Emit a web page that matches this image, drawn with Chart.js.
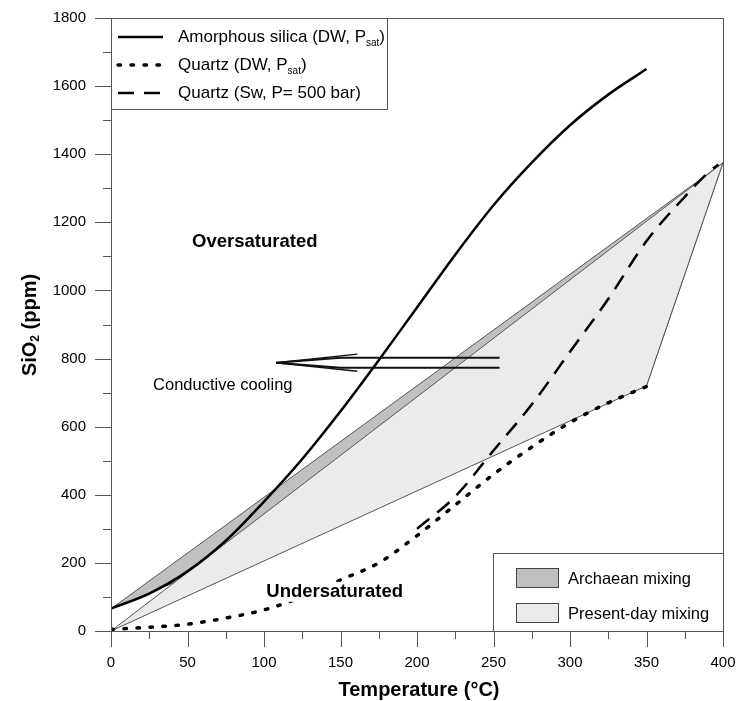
<!DOCTYPE html>
<html>
<head>
<script src="https://cdn.jsdelivr.net/npm/chart.js"></script>
<style>
  html, body { margin: 0; padding: 0; background: #fff; }
  #wrap { width: 739px; height: 701px; }
</style>
</head>
<body>
<div id="wrap"><canvas id="chart" width="739" height="701"></canvas></div>
<script>
// Amorphous silica solubility (DW, Psat)
const amorphT = [0, 25, 50, 75, 100, 125, 150, 175, 200, 225, 250, 275, 300, 325, 350];
const amorphSiO2 = [66, 110, 175, 265, 380, 505, 645, 795, 950, 1105, 1250, 1375, 1485, 1575, 1650];

// Quartz solubility (DW, Psat)
const quartzT = [0, 25, 50, 75, 100, 125, 150, 175, 200, 225, 250, 275, 300, 325, 350];
const quartzSiO2 = [5, 11, 20, 38, 62, 100, 150, 200, 280, 370, 460, 540, 612, 670, 718];

// Quartz solubility (Sw, P = 500 bar)
const quartzSwT = [200, 225, 250, 275, 300, 325, 350, 375, 390, 397];
const quartzSwSiO2 = [300, 395, 530, 665, 820, 975, 1145, 1275, 1345, 1370];

// Mixing fields (temperature, SiO2), closed polygons
const archaeanT = [0, 400, 350, 0];
const archaeanSiO2 = [65, 1375, 720, 65];
const presentT = [0, 400, 350, 0];
const presentSiO2 = [0, 1375, 720, 0];

// Conductive cooling arrow
const arrowUpperT = [254, 150, 108];
const arrowUpperSiO2 = [802, 802, 788];
const arrowLowerT = [254, 150, 108];
const arrowLowerSiO2 = [773, 773, 788];
const barbUpperT = [108, 161];
const barbUpperSiO2 = [788, 813];
const barbLowerT = [108, 161];
const barbLowerSiO2 = [788, 763];

const xTicks = [0, 50, 100, 150, 200, 250, 300, 350, 400];
const yTicks = [0, 200, 400, 600, 800, 1000, 1200, 1400, 1600, 1800];

const FONT = '"Liberation Sans", Arial, sans-serif';
const AXIS = '#555555';

function pts(xs, ys) {
  return xs.map((x, i) => ({ x, y: ys[i] }));
}

function lineSet(label, xs, ys, opts) {
  return Object.assign({
    label,
    data: pts(xs, ys),
    borderColor: '#000',
    borderWidth: 2.5,
    pointRadius: 0,
    fill: false,
    tension: 0.4,
    cubicInterpolationMode: 'monotone'
  }, opts);
}

// draws ticks (major + minor), frame, legends and labels
const decorations = {
  id: 'decorations',
  afterDraw(chart) {
    const { ctx, chartArea: a, scales: { x, y } } = chart;
    ctx.save();

    // frame
    ctx.strokeStyle = AXIS;
    ctx.lineWidth = 1;
    ctx.strokeRect(a.left + 0.5, a.top + 0.5, a.right - a.left, a.bottom - a.top);

    // x ticks
    for (let v = 0; v <= 400; v += 25) {
      const px = Math.round(x.getPixelForValue(v)) + 0.5;
      const len = v % 50 === 0 ? 16 : 8;
      ctx.beginPath();
      ctx.moveTo(px, a.bottom);
      ctx.lineTo(px, a.bottom + len);
      ctx.stroke();
    }
    // y ticks
    for (let v = 0; v <= 1800; v += 100) {
      const py = Math.round(y.getPixelForValue(v)) + 0.5;
      const len = v % 200 === 0 ? 16 : 8;
      ctx.beginPath();
      ctx.moveTo(a.left, py);
      ctx.lineTo(a.left - len, py);
      ctx.stroke();
    }

    // axis titles
    ctx.fillStyle = '#000';
    ctx.font = 'bold 20px ' + FONT;
    ctx.textAlign = 'center';
    ctx.textBaseline = 'middle';
    ctx.fillText('Temperature (°C)', (a.left + a.right) / 2 + 2, 690);

    ctx.save();
    ctx.translate(30, 325);
    ctx.rotate(-Math.PI / 2);
    const t1 = 'SiO', t2 = '2', t3 = ' (ppm)';
    ctx.font = 'bold 20px ' + FONT;
    const w1 = ctx.measureText(t1).width;
    const w3 = ctx.measureText(t3).width;
    ctx.font = 'bold 12px ' + FONT;
    const w2 = ctx.measureText(t2).width;
    const sx = -(w1 + w2 + w3) / 2;
    ctx.textAlign = 'left';
    ctx.font = 'bold 20px ' + FONT;
    ctx.fillText(t1, sx, 0);
    ctx.font = 'bold 12px ' + FONT;
    ctx.fillText(t2, sx + w1, 6);
    ctx.font = 'bold 20px ' + FONT;
    ctx.fillText(t3, sx + w1 + w2, 0);
    ctx.restore();

    // region labels
    ctx.textAlign = 'left';
    ctx.font = 'bold 18.5px ' + FONT;
    ctx.fillText('Oversaturated', x.getPixelForValue(53), y.getPixelForValue(1143));
    const ux = x.getPixelForValue(101.5), uy = y.getPixelForValue(115);
    const uw = ctx.measureText('Undersaturated').width;
    ctx.fillStyle = '#fff';
    ctx.fillRect(ux - 3, uy - 10, uw + 6, 20);
    ctx.fillStyle = '#000';
    ctx.fillText('Undersaturated', ux, uy);
    ctx.font = '16.5px ' + FONT;
    ctx.fillText('Conductive cooling', x.getPixelForValue(27.5), y.getPixelForValue(722));

    // top-left legend
    const ds = chart.data.datasets;
    const lx = a.left, ly = a.top;
    ctx.fillStyle = '#fff';
    ctx.fillRect(lx, ly, 276, 91);
    ctx.strokeStyle = AXIS;
    ctx.strokeRect(lx + 0.5, ly + 0.5, 276, 91);
    const items = [
      { ds: ds[0], main: 'Amorphous silica (DW, P', sub: 'sat', tail: ')' },
      { ds: ds[1], main: 'Quartz (DW, P', sub: 'sat', tail: ')' },
      { ds: ds[2], main: 'Quartz (Sw, P= 500 bar)', sub: '', tail: '' }
    ];
    items.forEach((it, i) => {
      const cy = ly + 19 + i * 28;
      ctx.strokeStyle = it.ds.borderColor;
      ctx.lineWidth = it.ds.borderWidth;
      ctx.lineCap = it.ds.borderCapStyle || 'butt';
      ctx.setLineDash(it.ds.borderDash || []);
      ctx.beginPath();
      ctx.moveTo(lx + 7, cy);
      ctx.lineTo(lx + 52, cy);
      ctx.stroke();
      ctx.setLineDash([]);
      ctx.lineCap = 'butt';
      ctx.fillStyle = '#000';
      ctx.font = '17px ' + FONT;
      let tx = lx + 67;
      ctx.fillText(it.main, tx, cy);
      tx += ctx.measureText(it.main).width;
      if (it.sub) {
        ctx.font = '10px ' + FONT;
        ctx.fillText(it.sub, tx, cy + 6);
        tx += ctx.measureText(it.sub).width;
        ctx.font = '17px ' + FONT;
        ctx.fillText(it.tail, tx, cy);
      }
    });

    // bottom-right legend
    const bx = 493, by = 553;
    ctx.lineWidth = 1;
    ctx.strokeStyle = AXIS;
    ctx.fillStyle = '#fff';
    ctx.fillRect(bx, by, a.right - bx, a.bottom - by);
    ctx.strokeRect(bx + 0.5, by + 0.5, a.right - bx, a.bottom - by);
    [ds[3], ds[4]].forEach((d, i) => {
      const sy = by + 15 + i * 35;
      ctx.fillStyle = d.backgroundColor;
      ctx.fillRect(bx + 23, sy, 42, 19);
      ctx.strokeStyle = '#444';
      ctx.strokeRect(bx + 23.5, sy + 0.5, 42, 19);
      ctx.fillStyle = '#000';
      ctx.font = '16.5px ' + FONT;
      ctx.fillText(d.label, bx + 75, sy + 11);
    });

    ctx.restore();
  }
};

const datasets = [
  lineSet('Amorphous silica (DW, Psat)', amorphT, amorphSiO2, { order: 1 }),
  lineSet('Quartz (DW, Psat)', quartzT, quartzSiO2, { borderDash: [2.5, 10.5], borderWidth: 3.5, borderCapStyle: 'round', order: 2 }),
  lineSet('Quartz (Sw, P= 500 bar)', quartzSwT, quartzSwSiO2, { borderDash: [16, 10], order: 3 }),
  {
    label: 'Archaean mixing',
    data: pts(archaeanT, archaeanSiO2),
    borderColor: '#555',
    borderWidth: 1,
    backgroundColor: '#c0c0c0',
    pointRadius: 0,
    fill: 'shape',
    tension: 0,
    order: 20
  },
  {
    label: 'Present-day mixing',
    data: pts(presentT, presentSiO2),
    borderColor: '#555',
    borderWidth: 1,
    backgroundColor: '#ebebeb',
    pointRadius: 0,
    fill: 'shape',
    tension: 0,
    order: 19
  },
  lineSet('arrow1', arrowUpperT, arrowUpperSiO2, { borderWidth: 2, tension: 0, cubicInterpolationMode: 'default', order: 0, borderColor: '#111' }),
  lineSet('arrow2', arrowLowerT, arrowLowerSiO2, { borderWidth: 2, tension: 0, cubicInterpolationMode: 'default', order: 0, borderColor: '#111' }),
  lineSet('barb1', barbUpperT, barbUpperSiO2, { borderWidth: 1.5, tension: 0, cubicInterpolationMode: 'default', order: 0, borderColor: '#111' }),
  lineSet('barb2', barbLowerT, barbLowerSiO2, { borderWidth: 1.5, tension: 0, cubicInterpolationMode: 'default', order: 0, borderColor: '#111' })
];

new Chart(document.getElementById('chart'), {
  type: 'line',
  data: { datasets },
  plugins: [decorations],
  options: {
    responsive: false,
    animation: false,
    layout: { padding: { top: 18, right: 16, left: 0, bottom: 0 } },
    plugins: { legend: { display: false }, tooltip: { enabled: false } },
    scales: {
      x: {
        type: 'linear',
        min: 0,
        max: 400,
        grid: { display: false },
        border: { display: false },
        afterFit: s => { s.height = 70; s.paddingLeft = 0; s.paddingRight = 0; },
        afterBuildTicks: s => { s.ticks = xTicks.map(v => ({ value: v })); },
        ticks: { color: '#000', padding: 15, font: { family: FONT, size: 15 }, maxRotation: 0, callback: v => String(v) }
      },
      y: {
        type: 'linear',
        min: 0,
        max: 1800,
        grid: { display: false },
        border: { display: false },
        afterFit: s => { s.width = 111; s.paddingTop = 0; s.paddingBottom = 0; },
        afterBuildTicks: s => { s.ticks = yTicks.map(v => ({ value: v })); },
        ticks: { color: '#000', padding: 17, font: { family: FONT, size: 15 }, callback: v => String(v) }
      }
    }
  }
});
</script>
</body>
</html>
